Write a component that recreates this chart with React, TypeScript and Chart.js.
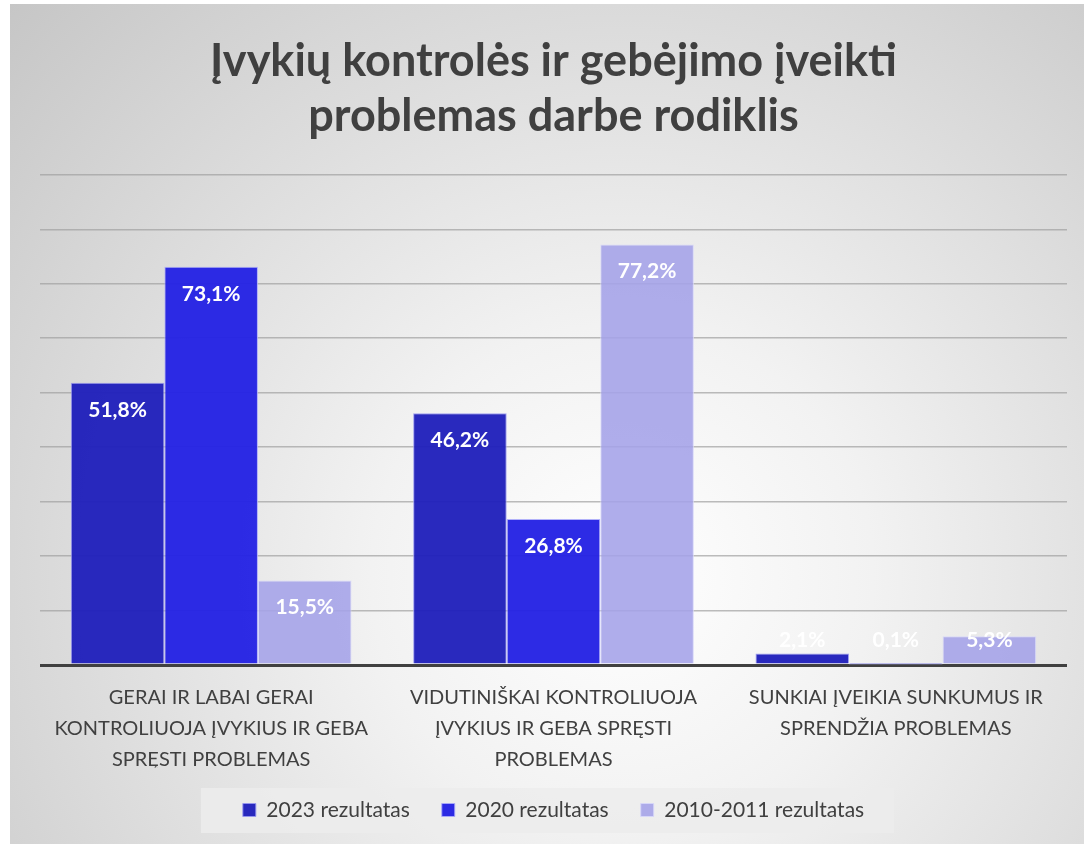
import { useEffect, useRef } from "react";
import { Chart, registerables } from "chart.js";

Chart.register(...registerables);

const titleLines = ["Įvykių kontrolės ir gebėjimo įveikti", "problemas darbe rodiklis"];
const categories = [
  ["GERAI IR LABAI GERAI", "KONTROLIUOJA ĮVYKIUS IR GEBA", "SPRĘSTI PROBLEMAS"],
  ["VIDUTINIŠKAI KONTROLIUOJA", "ĮVYKIUS IR GEBA SPRĘSTI", "PROBLEMAS"],
  ["SUNKIAI ĮVEIKIA SUNKUMUS IR", "SPRENDŽIA PROBLEMAS"],
];
const seriesNames = ["2023 rezultatas", "2020 rezultatas", "2010-2011 rezultatas"];
const values2023 = [51.8, 46.2, 2.1];
const values2020 = [73.1, 26.8, 0.1];
const values2010 = [15.5, 77.2, 5.3];
const yMin = 0;
const yMax = 90;
const yStep = 10;

const FONT = "Lato";

const barLabels = {
  id: "barLabels",
  afterDatasetsDraw(chart: any) {
    const ctx = chart.ctx;
    ctx.save();
    ctx.font = `bold 21px ${FONT}`;
    ctx.fillStyle = "#ffffff";
    ctx.textAlign = "center";
    ctx.textBaseline = "middle";
    chart.data.datasets.forEach((ds: any, i: number) => {
      const meta = chart.getDatasetMeta(i);
      meta.data.forEach((el: any, j: number) => {
        const v = ds.data[j] as number;
        const y = Math.min(el.y + 27, el.base - 23);
        ctx.fillText(v.toFixed(1).replace(".", ",") + "%", el.x, y);
      });
    });
    ctx.restore();
  },
};

const legendBox = {
  id: "legendBox",
  beforeDraw(chart: any) {
    const lg = chart.legend;
    if (!lg || !lg.legendHitBoxes || !lg.legendHitBoxes.length) return;
    const hbs = lg.legendHitBoxes;
    const left = Math.min(...hbs.map((h: any) => h.left)) - 42;
    const right = Math.max(...hbs.map((h: any) => h.left + h.width)) + 30;
    const cy = hbs[0].top + hbs[0].height / 2;
    const ctx = chart.ctx;
    ctx.save();
    ctx.fillStyle = "rgba(236,236,236,0.85)";
    ctx.fillRect(left, cy - 22, right - left, 45);
    ctx.restore();
  },
};

export default function App() {
  const ref = useRef<HTMLCanvasElement | null>(null);

  useEffect(() => {
    if (!ref.current) return;
    const chart = new Chart(ref.current, {
      type: "bar",
      data: {
        labels: categories as any,
        datasets: [
          {
            label: seriesNames[0],
            data: values2023,
            backgroundColor: "rgba(30,30,186,0.95)",
            borderColor: "rgba(150,150,240,0.9)",
            borderWidth: 1,
          },
          {
            label: seriesNames[1],
            data: values2020,
            backgroundColor: "rgba(36,34,228,0.96)",
            borderColor: "rgba(170,170,250,0.9)",
            borderWidth: 1,
          },
          {
            label: seriesNames[2],
            data: values2010,
            backgroundColor: "rgba(164,162,232,0.88)",
            borderColor: "rgba(215,215,250,0.9)",
            borderWidth: 1,
          },
        ],
      },
      options: {
        responsive: false,
        animation: false,
        layout: { padding: { left: 30, right: 17, top: 0, bottom: 13.5 } },
        datasets: {
          bar: { categoryPercentage: 0.82, barPercentage: 1.0 },
        },
        scales: {
          x: {
            grid: { display: false },
            border: { display: false },
            ticks: {
              color: "#404040",
              font: { family: FONT, size: 20, lineHeight: 1.55 },
              padding: 9,
              maxRotation: 0,
              autoSkip: false,
            },
            afterFit: (scale: any) => {
              scale.height = 102.5;
            },
          },
          y: {
            min: yMin,
            max: yMax,
            ticks: { display: false, stepSize: yStep },
            border: { display: false },
            grid: {
              drawTicks: false,
              color: (c: any) => (c.tick && c.tick.value === 0 ? "#404040" : "rgba(160,160,160,0.7)"),
              lineWidth: (c: any) => (c.tick && c.tick.value === 0 ? 3 : 1.5),
            },
          },
        },
        plugins: {
          title: {
            display: true,
            text: titleLines,
            color: "#404040",
            font: { family: FONT, size: 45, weight: "bold", lineHeight: 1.22 },
            padding: { top: 30.5, bottom: 30.5 },
          },
          legend: {
            position: "bottom",
            labels: {
              color: "#404040",
              font: { family: FONT, size: 21 },
              boxWidth: 13,
              boxHeight: 13,
              padding: 32,
            },
          },
          tooltip: { enabled: false },
        },
      },
      plugins: [legendBox, barLabels],
    });
    return () => chart.destroy();
  }, []);

  return (
    <div
      style={{
        position: "absolute",
        left: 10,
        top: 4,
        width: 1074,
        height: 840,
        background:
          "radial-gradient(circle farthest-corner at 57% 68%, #ffffff 0%, #f2f2f2 30%, #c6c6c6 100%)",
      }}
    >
      <canvas ref={ref} width={1074} height={840} style={{ display: "block", width: 1074, height: 840 }} />
    </div>
  );
}
